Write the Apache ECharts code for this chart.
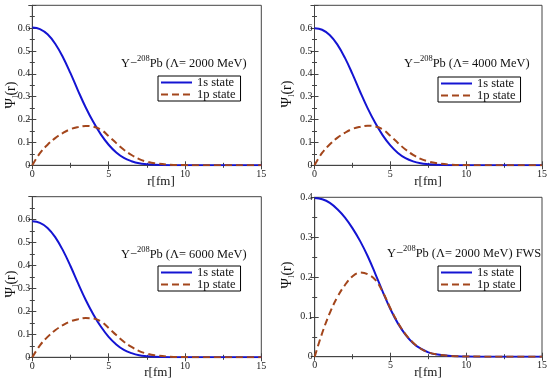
<!DOCTYPE html>
<html>
<head>
<meta charset="utf-8">
<script src="https://cdn.jsdelivr.net/npm/echarts@6/dist/echarts.min.js"></script>
<style>html,body{margin:0;padding:0;background:#fff}#c{width:550px;height:383px}</style>
</head>
<body>
<div id="c"></div>
<script>
// radial grid (fm)
const rValues = [0,0.5,1,1.5,2,2.5,3,3.5,4,4.5,5,5.5,6,6.5,7,7.5,8,9,10,11,12,13,14,15];
// panel 1: Lambda = 2000 MeV
const s1_2000 = [0.603,0.596,0.573,0.532,0.474,0.403,0.326,0.253,0.189,0.134,0.090,0.056,0.032,0.018,0.009,0.005,0.0025,0.0006,0.0002,0,0,0,0,0];
const p1_2000 = [0,0.053,0.090,0.119,0.141,0.158,0.167,0.172,0.169,0.156,0.128,0.097,0.068,0.045,0.027,0.016,0.009,0.003,0.001,0.0003,0,0,0,0];
// panel 2: Lambda = 4000 MeV
const s1_4000 = [0.600,0.593,0.570,0.529,0.471,0.400,0.323,0.250,0.186,0.131,0.087,0.054,0.031,0.017,0.009,0.005,0.0024,0.0006,0.0002,0,0,0,0,0];
const p1_4000 = [0,0.054,0.091,0.120,0.142,0.159,0.168,0.173,0.170,0.157,0.129,0.098,0.069,0.046,0.028,0.017,0.010,0.003,0.001,0.0003,0,0,0,0];
// panel 3: Lambda = 6000 MeV
const s1_6000 = [0.593,0.586,0.564,0.524,0.467,0.398,0.322,0.250,0.187,0.133,0.089,0.056,0.032,0.018,0.009,0.005,0.0025,0.0006,0.0002,0,0,0,0,0];
const p1_6000 = [0,0.052,0.089,0.118,0.140,0.157,0.166,0.171,0.169,0.156,0.128,0.097,0.068,0.045,0.027,0.016,0.009,0.003,0.001,0.0003,0,0,0,0];
// panel 4: Lambda = 2000 MeV FWS
const s1_fws = [0.398,0.395,0.386,0.370,0.349,0.322,0.290,0.252,0.208,0.162,0.119,0.083,0.055,0.034,0.020,0.011,0.006,0.0017,0.0005,0.0001,0,0,0,0];
const p1_fws = [0,0.060,0.110,0.150,0.180,0.202,0.211,0.207,0.193,0.162,0.121,0.085,0.056,0.035,0.020,0.011,0.006,0.002,0.0006,0.0002,0,0,0,0];

const panelTitles = ['2000 MeV)', '4000 MeV)', '6000 MeV)', '2000 MeV) FWS'];
const seriesNames = ['1s state', '1p state'];
const xTicks = [0, 5, 10, 15];
const yMaxes = [0.7, 0.7, 0.7, 0.4];

const panels = [
  {s: s1_2000, p: p1_2000},
  {s: s1_4000, p: p1_4000},
  {s: s1_6000, p: p1_6000},
  {s: s1_fws, p: p1_fws}
];

const grids = [
  {left: 32.3, top: 5.3, width: 229, height: 160},
  {left: 314.5, top: 5.3, width: 229.5, height: 160},
  {left: 32.3, top: 196.7, width: 229, height: 160.6},
  {left: 314.7, top: 197.3, width: 229.3, height: 159.4}
];
const annotPos = [[121, 54], [404, 54], [121, 245], [387, 244]];
const legendPos = [[158, 76], [438, 77], [158, 266], [438, 266]];
const xNamePos = [[161, 182], [428, 182], [158, 373], [428, 373]];
const yNamePos = [[12, 95], [288, 94], [12, 284], [288, 275]];

const FONT = '"Liberation Serif", "DejaVu Serif", serif';
const AX = '#444';
const BLUE = '#1414d2';
const BROWN = '#a3461c';

const xAxes = [], yAxes = [], series = [], legends = [], graphics = [];
grids.forEach((g, i) => {
  const common = {
    type: 'value', gridIndex: i, min: 0, max: 15, interval: 5,
    axisLine: {show: true, lineStyle: {color: AX, width: 1}},
    axisTick: {show: true, inside: true, length: 4, lineStyle: {color: AX}},
    minorTick: {show: true, splitNumber: 2, length: 2.5, lineStyle: {color: AX}},
    splitLine: {show: false}
  };
  xAxes[i] = Object.assign({}, common, {
    position: 'bottom',
    axisLabel: {show: true, fontFamily: FONT, fontSize: 10, color: '#222', margin: 4,
      formatter: v => xTicks.includes(v) ? String(v) : ''}
  });
  xAxes[i + 4] = Object.assign({}, common, {position: 'top', axisLabel: {show: false}});
  const ym = yMaxes[i];
  const ycommon = Object.assign({}, common, {max: ym, interval: 0.1});
  yAxes[i] = Object.assign({}, ycommon, {
    position: 'left',
    axisLabel: {show: true, fontFamily: FONT, fontSize: 10, color: '#222', margin: 2,
      formatter: v => (v > ym - 0.05 && ym > 0.5) ? '' : String(Math.round(v * 10) / 10)}
  });
  yAxes[i + 4] = Object.assign({}, ycommon, {position: 'right', axisLabel: {show: false}});

  const d = panels[i];
  series.push({
    name: seriesNames[0], type: 'line', xAxisIndex: i, yAxisIndex: i,
    data: rValues.map((r, k) => [r, d.s[k]]), smooth: 0.4, symbol: 'none', showSymbol: false,
    lineStyle: {color: BLUE, width: 2}, itemStyle: {color: BLUE}, z: 3
  });
  series.push({
    name: seriesNames[1], type: 'line', xAxisIndex: i, yAxisIndex: i,
    data: rValues.map((r, k) => [r, d.p[k]]), smooth: 0.4, symbol: 'none', showSymbol: false,
    lineStyle: {color: BROWN, width: 2, type: [7, 4]}, itemStyle: {color: BROWN}, z: 4
  });
  legends.push({
    data: seriesNames,
    left: legendPos[i][0], top: legendPos[i][1], orient: 'vertical',
    itemWidth: 31, itemHeight: 10, itemGap: -1, padding: [0, 5, 0, 2],
    borderColor: '#000', borderWidth: 1, backgroundColor: '#fff', borderRadius: 0,
    selectedMode: false,
    itemStyle: {opacity: 0, borderWidth: 0},
    textStyle: {fontFamily: FONT, fontSize: 12.5, color: '#111', lineHeight: 12, padding: [0, 0, 0, 0]}
  });
  graphics.push({
    type: 'text', left: annotPos[i][0], top: annotPos[i][1], z: 10,
    style: {
      text: '{t|Y\u2212}{s|208}{t|Pb (\u039b= ' + panelTitles[i] + '}',
      rich: {
        t: {fontFamily: FONT, fontSize: 12.4, fill: '#111', lineHeight: 16, verticalAlign: 'bottom'},
        s: {fontFamily: FONT, fontSize: 8.5, fill: '#111', lineHeight: 9, verticalAlign: 'top'}
      }
    }
  });
  graphics.push({
    type: 'text', x: xNamePos[i][0], y: xNamePos[i][1], z: 10,
    style: {text: 'r[fm]', fontFamily: FONT, fontSize: 13, fill: '#111', align: 'center', verticalAlign: 'middle'}
  });
  graphics.push({
    type: 'text', x: yNamePos[i][0], y: yNamePos[i][1], rotation: Math.PI / 2, z: 10,
    style: {
      text: '{a|\u03a8}{b|l}{a|(r)}', align: 'center', verticalAlign: 'middle',
      rich: {
        a: {fontFamily: FONT, fontSize: 14, fill: '#111', lineHeight: 16, verticalAlign: 'top'},
        b: {fontFamily: FONT, fontSize: 9, fill: '#111', lineHeight: 10, verticalAlign: 'bottom'}
      }
    }
  });
});

const chart = echarts.init(document.getElementById('c'), null, {renderer: 'canvas'});
chart.setOption({
  animation: false,
  backgroundColor: '#fff',
  grid: grids.map(g => Object.assign({show: true, borderColor: AX, borderWidth: 1, backgroundColor: 'transparent'}, g)),
  xAxis: xAxes,
  yAxis: yAxes,
  legend: legends,
  series: series,
  graphic: graphics
});
</script>
</body>
</html>
